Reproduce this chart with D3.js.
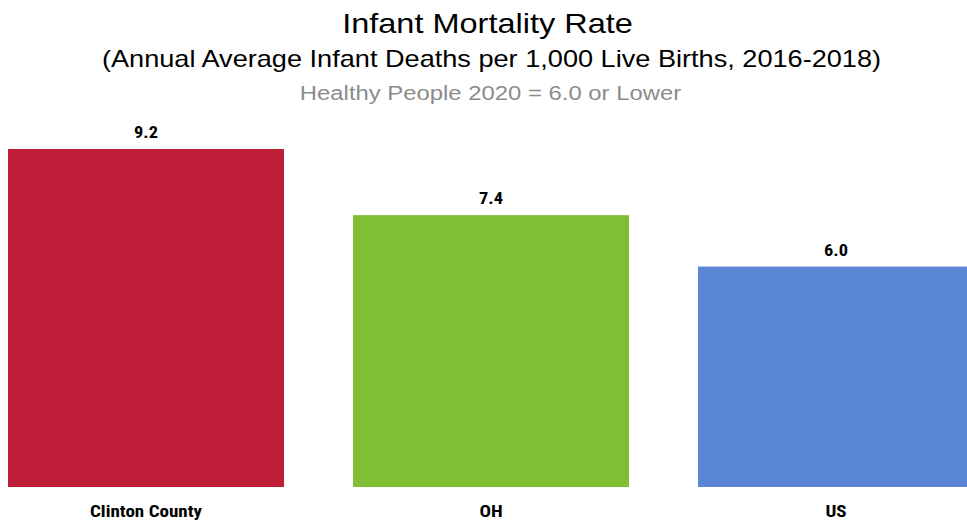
<!DOCTYPE html>
<html><head><meta charset="utf-8">
<script src="https://cdn.jsdelivr.net/npm/d3@7"></script>
<style>body{margin:0;background:#fff;}svg{display:block;}</style>
</head><body>
<svg id="chart" width="967" height="523"></svg>
<script>
const categories = ["Clinton County", "OH", "US"];
const values = [9.2, 7.4, 6.0];
const valueLabels = ["9.2", "7.4", "6.0"];
const colors = ["#BE1E37", "#80BF33", "#5B86D5"];
const titles = ["Infant Mortality Rate", "(Annual Average Infant Deaths per 1,000 Live Births, 2016-2018)", "Healthy People 2020 = 6.0 or Lower"];

const svg = d3.select("#chart");
const baseY = 487;
const y = d3.scaleLinear().domain([0, 9.2]).range([baseY, 149]);
const x = d3.scaleBand().domain(categories).range([-26.5, 1008.5]).paddingInner(0.2).paddingOuter(0.1);

svg.selectAll("rect.bar").data(categories).enter().append("rect")
  .attr("class", "bar")
  .attr("x", d => x(d)).attr("width", x.bandwidth())
  .attr("y", (d, i) => y(values[i])).attr("height", (d, i) => baseY - y(values[i]))
  .attr("fill", (d, i) => colors[i]);

const narrow = "'Liberation Sans Narrow','Arial Narrow','Roboto Condensed','Liberation Sans',Arial,sans-serif";
svg.selectAll("text.val").data(categories).enter().append("text")
  .attr("class", "val")
  .attr("transform", (d, i) => `translate(${x(d) + x.bandwidth() / 2},${y(values[i]) - 11}) scale(1.15,1)`)
  .attr("text-anchor", "middle")
  .style("font-family", narrow).style("font-weight", "bold").style("font-size", "16px").attr("fill", "#000")
  .text((d, i) => valueLabels[i]);

const xAxis = d3.axisBottom(x).tickSize(0);
const gx = svg.append("g").attr("transform", `translate(0,${baseY})`).call(xAxis);
gx.select(".domain").remove();
gx.selectAll(".tick text").attr("y", 0).attr("dy", null)
  .attr("transform", "translate(0,30) scale(1.155,1)")
  .style("font-family", narrow).style("font-weight", "bold").style("font-size", "16.5px").attr("fill", "#000");

const tf = "'Liberation Sans',Arial,sans-serif";
const tspec = [
  {cx: 487.5, by: 33, size: 28.5, s: 1.14, fill: "#000"},
  {cx: 491.5, by: 67, size: 23, s: 1.18, fill: "#000"},
  {cx: 490.5, by: 100, size: 21, s: 1.137, fill: "#8c8c8c"}
];
titles.forEach((t, i) => {
  const sp = tspec[i];
  svg.append("text").attr("transform", `translate(${sp.cx},${sp.by}) scale(${sp.s},1)`)
    .attr("text-anchor", "middle")
    .style("font-family", tf).style("font-size", sp.size + "px").attr("fill", sp.fill).text(t);
});
</script>
</body></html>
